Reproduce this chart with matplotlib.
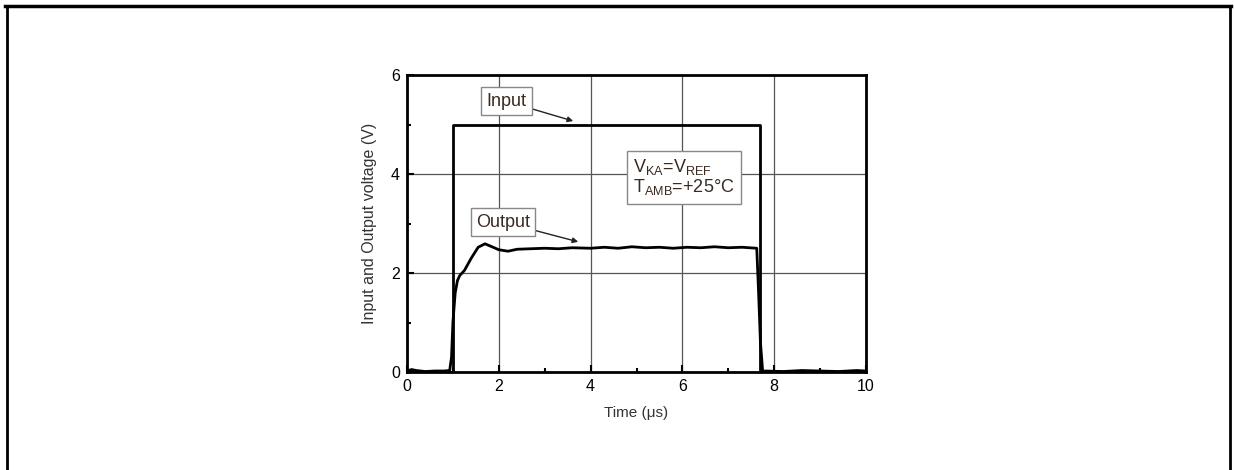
import numpy as np
import matplotlib.pyplot as plt
from matplotlib.lines import Line2D
from matplotlib.ticker import MultipleLocator

plt.rcParams["font.family"] = ["Liberation Sans", "DejaVu Sans"]

# Input step (V)
t_in = [0.0, 1.0, 1.0, 7.69, 7.69, 10.0]
v_in = [0.0, 0.0, 5.0, 5.0, 0.0, 0.0]

# Output response (V)
t_out = [0.0, 0.1, 0.2, 0.4, 0.6, 0.8, 0.93, 0.97, 1.0, 1.05, 1.1, 1.15,
         1.25, 1.4, 1.55, 1.7, 1.85, 2.0, 2.2, 2.4, 2.7, 3.0, 3.3, 3.6,
         4.0, 4.3, 4.6, 4.9, 5.2, 5.5, 5.8, 6.1, 6.4, 6.7, 7.0, 7.3, 7.62,
         7.66, 7.7, 7.75, 7.8, 8.2, 8.6, 9.0, 9.4, 9.8, 10.0]
v_out = [0.02, 0.05, 0.03, 0.01, 0.02, 0.02, 0.03, 0.3, 1.0, 1.6, 1.85, 1.95,
         2.05, 2.3, 2.52, 2.59, 2.53, 2.47, 2.44, 2.48, 2.49, 2.5, 2.49, 2.51,
         2.5, 2.52, 2.5, 2.53, 2.51, 2.52, 2.5, 2.52, 2.51, 2.53, 2.51, 2.52, 2.5,
         1.6, 0.6, 0.0, 0.02, 0.01, 0.03, 0.02, 0.01, 0.03, 0.02]

fig = plt.figure(figsize=(12.34, 4.70), dpi=100)
ax = fig.add_axes([407 / 1234, 1 - 372 / 470, 459 / 1234, 297 / 470])

ax.plot(t_in, v_in, color="black", lw=2.0, zorder=3)
ax.plot(t_out, v_out, color="black", lw=2.0, zorder=3)

ax.set_xlim(0, 10)
ax.set_ylim(0, 6)
ax.xaxis.set_major_locator(MultipleLocator(2))
ax.xaxis.set_minor_locator(MultipleLocator(1))
ax.yaxis.set_major_locator(MultipleLocator(2))
ax.yaxis.set_minor_locator(MultipleLocator(1))
ax.tick_params(which="both", direction="in", top=False, right=False,
               labelsize=11.5, width=1.5, colors="black")
ax.tick_params(which="major", length=5, pad=5)
ax.tick_params(which="minor", length=3)
ax.grid(True, which="major", color="#555555", lw=0.9)
for s in ax.spines.values():
    s.set_linewidth(2.0)

ax.set_xlabel("Time (\u03bcs)", fontsize=11, color="#333333", labelpad=9)
ax.set_ylabel("Input and Output voltage (V)", fontsize=11.5, color="#333333",
              labelpad=10)

box = dict(boxstyle="square,pad=0.3", fc="white", ec="#888888", lw=1.0)
arrow = dict(arrowstyle="-|>", color="#222222", lw=1.0, mutation_scale=8,
             shrinkA=0, shrinkB=0)
ax.annotate("Input", xy=(3.62, 5.07), xytext=(2.16, 5.47), fontsize=13,
            color="#3a2a20", ha="center", va="center", bbox=box,
            arrowprops=arrow, zorder=5)
ax.annotate("Output", xy=(3.73, 2.63), xytext=(2.09, 3.03), fontsize=13,
            color="#3a2a20", ha="center", va="center", bbox=box,
            arrowprops=arrow, zorder=5)
ax.text(4.93, 3.93, "V$_{\\mathregular{KA}}$=V$_{\\mathregular{REF}}$\n"
        "T$_{\\mathregular{AMB}}$=+25\u00b0C", fontsize=13, color="#3a2a20",
        ha="left", va="center", linespacing=1.0,
        bbox=dict(boxstyle="square,pad=0.35", fc="white", ec="#888888", lw=1.0),
        zorder=5)

# surrounding frame of the page figure
fig.add_artist(Line2D([5 / 1234, 1231 / 1234], [1 - 5.5 / 470, 1 - 5.5 / 470],
                      color="black", lw=2.5, transform=fig.transFigure))
fig.add_artist(Line2D([7 / 1234, 7 / 1234], [0, 1 - 5.5 / 470],
                      color="black", lw=2.0, transform=fig.transFigure))
fig.add_artist(Line2D([1230 / 1234, 1230 / 1234], [0, 1 - 5.5 / 470],
                      color="black", lw=2.0, transform=fig.transFigure))

fig.savefig("out.png", dpi=100)
